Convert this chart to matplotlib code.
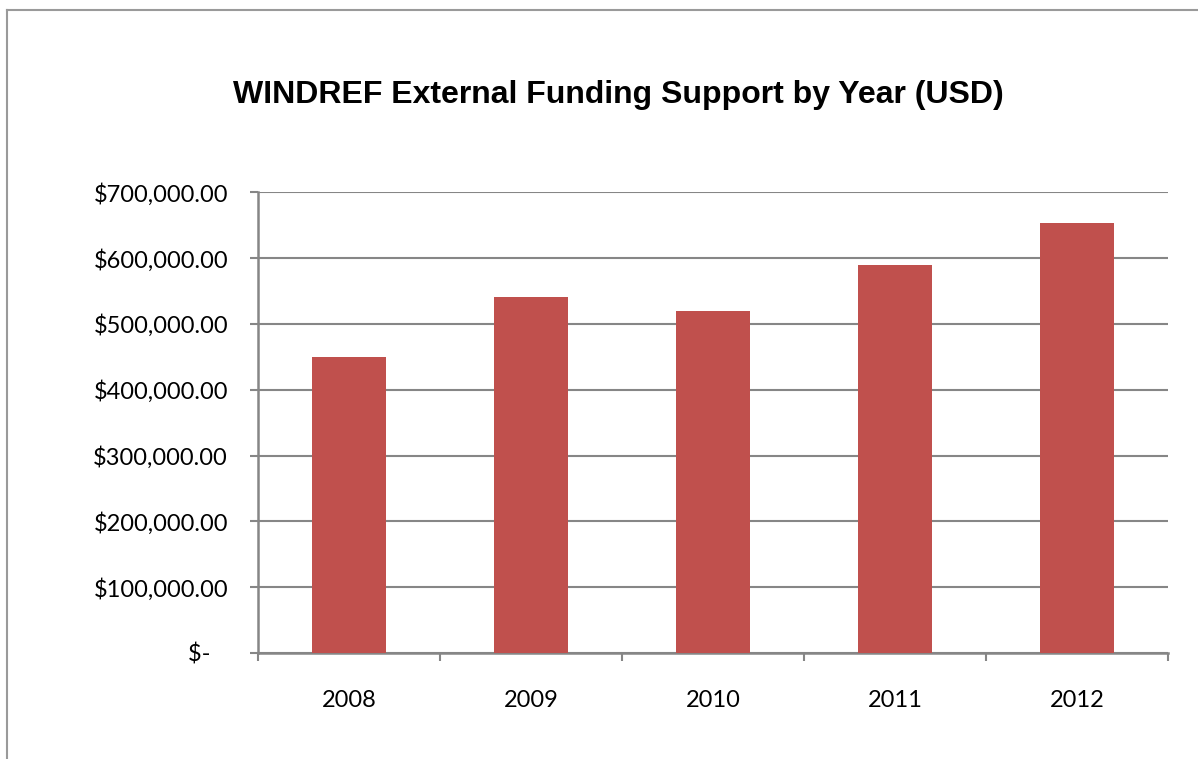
import matplotlib
matplotlib.use("Agg")
import matplotlib.pyplot as plt
from matplotlib.lines import Line2D
from matplotlib.ticker import FuncFormatter

years = ["2008", "2009", "2010", "2011", "2012"]
funding = [450000, 541000, 519000, 589000, 653000]
y_ticks = [0, 100000, 200000, 300000, 400000, 500000, 600000, 700000]
title = "WINDREF External Funding Support by Year (USD)"

W, H = 1198, 759
fig = plt.figure(figsize=(W / 100, H / 100), dpi=100)
fig.patch.set_facecolor("white")

# chart border (top and left visible, right/bottom out of frame)
fig.add_artist(Line2D([7 / W, 1.0], [1 - 10 / H, 1 - 10 / H], transform=fig.transFigure,
                      color="#9a9a9a", lw=1.5))
fig.add_artist(Line2D([7 / W, 7 / W], [0, 1 - 10 / H], transform=fig.transFigure,
                      color="#9a9a9a", lw=1.5))

left, right, top, bottom = 258, 1168, 192.3, 653
ax = fig.add_axes([left / W, 1 - bottom / H, (right - left) / W, (bottom - top) / H])

grid_c = "#868686"
x = list(range(len(years)))
ax.bar(x, funding, width=0.41, color="#C0504D", zorder=3)
ax.set_xlim(-0.5, len(years) - 0.5)
ax.set_ylim(0, 700000)
ax.set_yticks(y_ticks)
ax.yaxis.set_major_formatter(FuncFormatter(lambda v, p: "$-   " if v == 0 else f"${v:,.2f}"))
ax.set_xticks(x)
ax.set_xticklabels(years)
ax.set_xticks([i - 0.5 for i in range(len(years) + 1)], minor=True)
ax.tick_params(axis="x", which="major", length=0, pad=26.5, labelsize=17)
ax.tick_params(axis="x", which="minor", length=5.8, width=1.5, color=grid_c, direction="out")
ax.tick_params(axis="y", length=5.8, width=1.5, color=grid_c, pad=15.8, labelsize=17)
for lab in ax.get_xticklabels() + ax.get_yticklabels():
    lab.set_fontfamily("Lato")

ax.grid(axis="y", color=grid_c, lw=1.5, zorder=0)
ax.set_axisbelow(True)
for s in ["top", "right"]:
    ax.spines[s].set_visible(False)
for s in ["left", "bottom"]:
    ax.spines[s].set_color(grid_c)
    ax.spines[s].set_linewidth(1.8)

fig.text(618 / W, 1 - 103 / H, title, ha="center", va="baseline",
         fontsize=23, fontweight="bold", family="Liberation Sans")

fig.savefig("out.png", dpi=100, facecolor="white")
